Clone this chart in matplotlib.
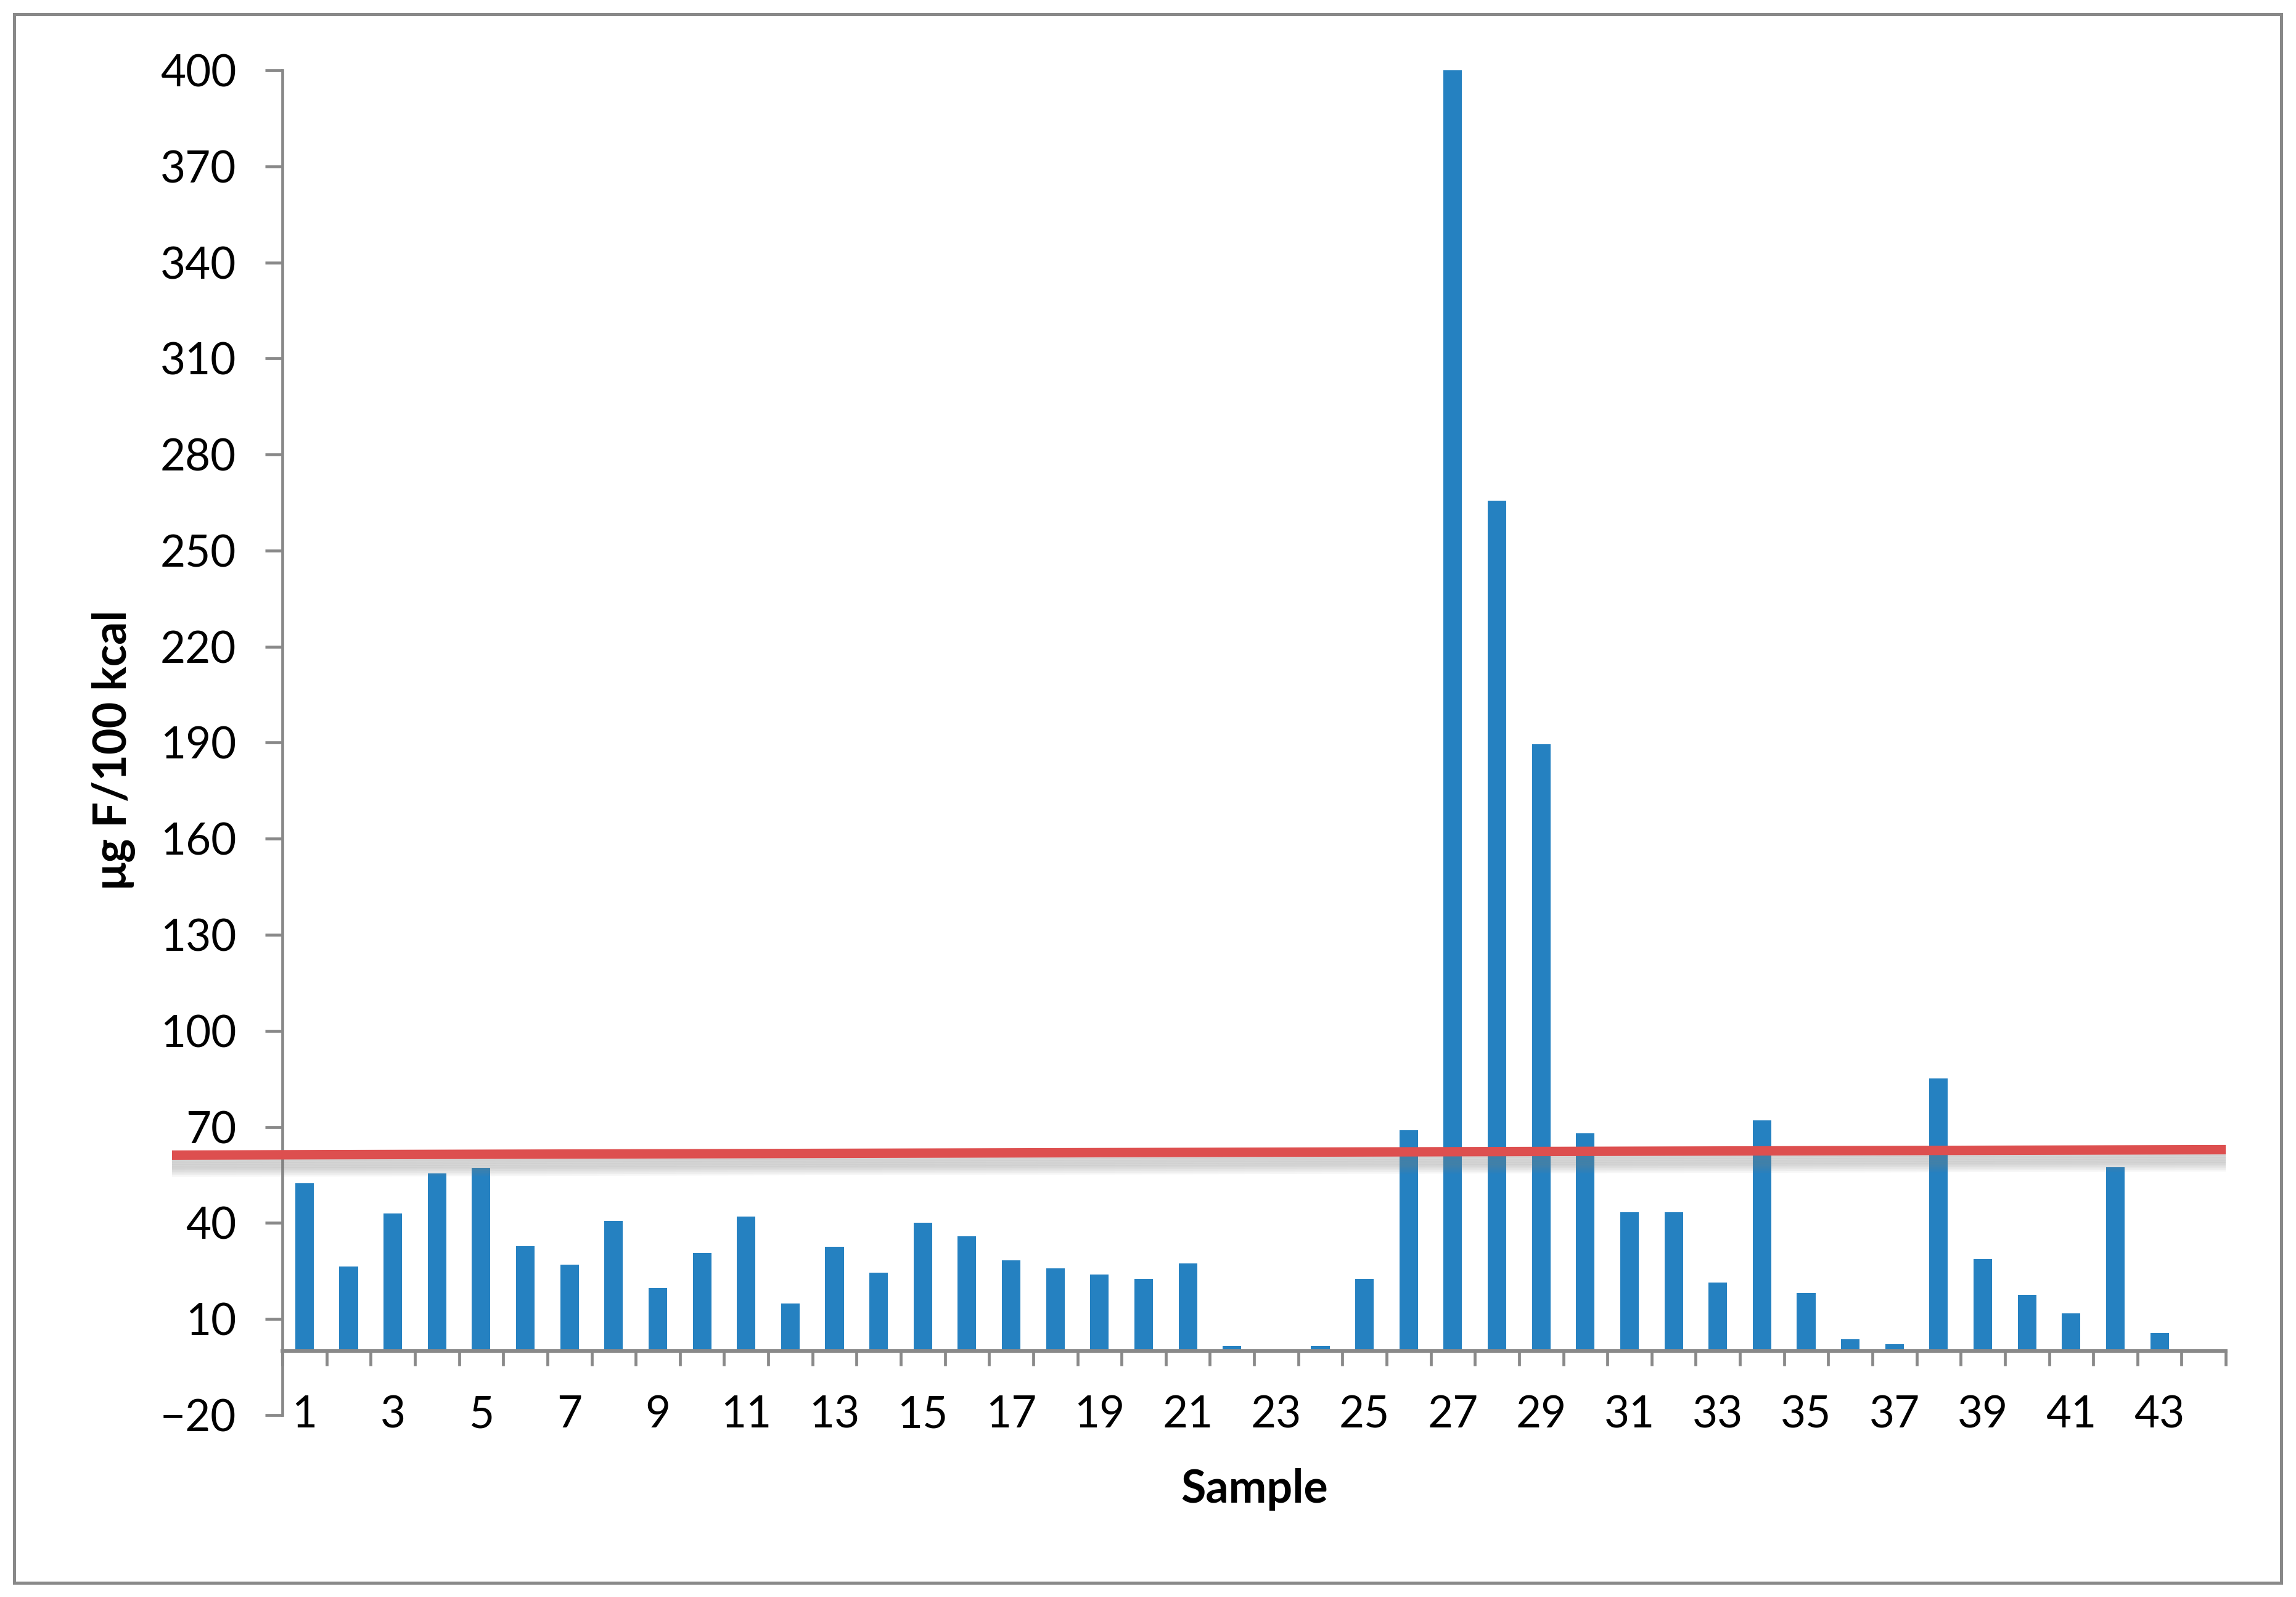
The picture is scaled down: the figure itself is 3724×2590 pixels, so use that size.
import matplotlib
matplotlib.use("Agg")
import matplotlib.pyplot as plt
from matplotlib.patches import Rectangle
import matplotlib.patheffects as pe
import matplotlib.transforms as mtransforms

plt.rcParams['font.family'] = ['Lato', 'DejaVu Sans']

samples = list(range(1, 44))
values = [52.4, 26.4, 42.9, 55.5, 57.2, 32.7, 27.0, 40.6, 19.6, 30.6,
          42.1, 14.9, 32.6, 24.5, 40.0, 35.8, 28.3, 25.8, 23.9, 22.6,
          27.4, 1.6, 0.0, 1.6, 22.6, 69.0, 400.0, 265.5, 189.6, 68.0,
          43.4, 43.3, 21.4, 72.1, 18.2, 3.7, 2.2, 85.2, 28.7, 17.5,
          11.7, 57.5, 5.6]
yticks = list(range(-20, 401, 30))
xlabels = [str(i) for i in range(1, 44, 2)]
limit_line_x = [-2.0, 44.5]
limit_line_y = [61.2, 62.9]

GRAY = '#898989'
BLUE = '#2581C1'
RED = '#DD4F4F'

fig = plt.figure(figsize=(37.24, 25.90), dpi=100)
fig.patches.append(Rectangle((0.0062, 0.0089), 0.9874, 0.9822, transform=fig.transFigure,
                             fill=False, edgecolor=GRAY, linewidth=3.6))

ax = fig.add_axes([0.123, 0.1139, 0.8464, 0.8421])
ax.bar(samples, values, width=0.42, color=BLUE, zorder=2)
ax.set_xlim(0.5, 44.5)
ax.set_ylim(-20, 400)

for s in ['top', 'right']:
    ax.spines[s].set_visible(False)
ax.spines['left'].set_color(GRAY)
ax.spines['left'].set_linewidth(3.4)
ax.spines['bottom'].set_color(GRAY)
ax.spines['bottom'].set_linewidth(4.2)
ax.spines['bottom'].set_position(('data', 0))

ax.set_yticks(yticks)
ax.set_yticklabels([("\u2212" + str(-v)) if v < 0 else str(v) for v in yticks])
ax.tick_params(axis='y', direction='out', length=20, width=3.4, color=GRAY,
               labelsize=51, pad=34)

ax.set_xticks([i + 0.5 for i in range(0, 45)])
ax.set_xticklabels([])
ax.tick_params(axis='x', direction='out', length=17, width=3.4, color=GRAY)

trans = mtransforms.blended_transform_factory(ax.transData, ax.transData)
for lab in xlabels:
    ax.text(int(lab), -20, lab, ha='center', va='center', fontsize=51, transform=trans)

shadow = [pe.SimpleLineShadow(offset=(0, -off), shadow_color='#808080', alpha=0.07)
          for off in range(2, 22, 2)]
ax.plot(limit_line_x, limit_line_y, color=RED, linewidth=11, solid_capstyle='butt',
        clip_on=False, zorder=5, path_effects=shadow + [pe.Normal()])

fig.text(185 / 3724, 1 - 1216 / 2590, "\u03bcg F/100 kcal", rotation=90, ha='center',
         va='center', fontsize=53, fontweight='bold')
fig.text(2035 / 3724, 1 - 2415 / 2590, "Sample", ha='center', va='center',
         fontsize=53, fontweight='bold')

fig.savefig("out.png", dpi=100, facecolor='white')
